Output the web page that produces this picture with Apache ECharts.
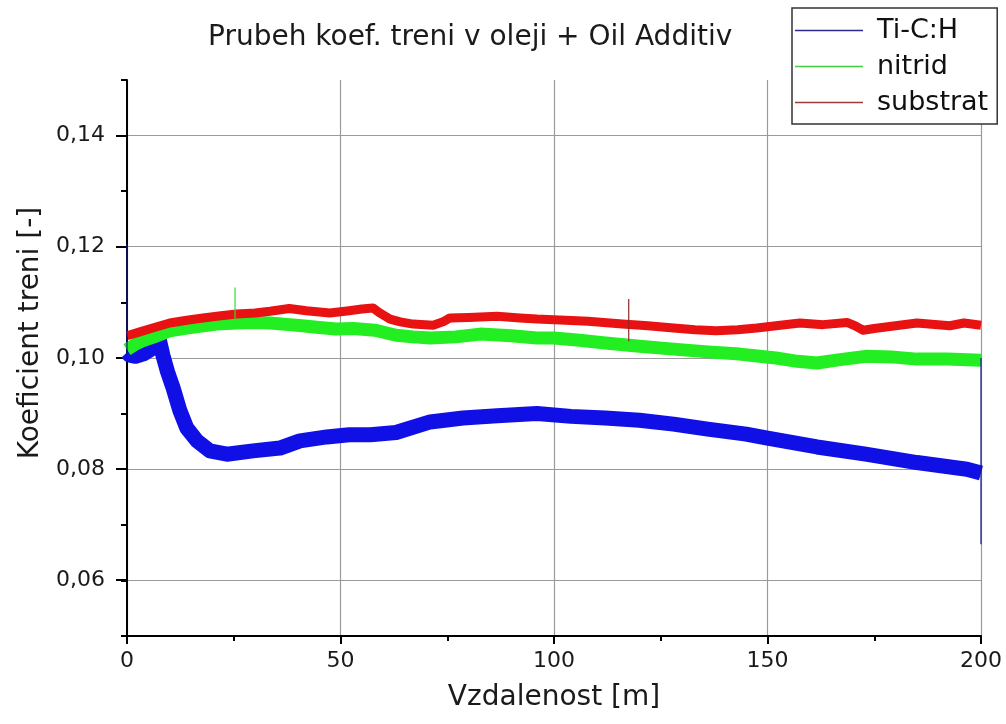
<!DOCTYPE html>
<html>
<head>
<meta charset="utf-8">
<title>Prubeh koef. treni</title>
<script src="https://cdn.jsdelivr.net/npm/echarts@6/dist/echarts.min.js"></script>
<style>
  html, body { margin: 0; padding: 0; background: #fff; }
  #chart { width: 1006px; height: 724px; }
</style>
</head>
<body>
<div id="chart"></div>
<script>
// hodnoty (vzdalenost v m, koeficient treni)
const seriesNames = ['Ti-C:H', 'nitrid', 'substrat']

const distTiCH = [0, 0.6, 2, 4, 5.5, 6.6, 7.5, 8.4, 9.5, 10.8, 12.4, 14, 16.4, 19.4, 23.4, 29.5, 35.8, 40.5, 46.8, 52, 57, 63, 71, 78.7, 86.7, 96, 104, 112, 120, 128, 136, 145, 150, 161.6, 173, 185, 196.7, 200]
const valTiCH = [0.1010, 0.1005, 0.1003, 0.1008, 0.1015, 0.1030, 0.1035, 0.1005, 0.0975, 0.0946, 0.0905, 0.0874, 0.0851, 0.0833, 0.0827, 0.0833, 0.0838, 0.0851, 0.0858, 0.0862, 0.0862, 0.0866, 0.0885, 0.0892, 0.0896, 0.0900, 0.0895, 0.0892, 0.0888, 0.0881, 0.0872, 0.0863, 0.0856, 0.0840, 0.0827, 0.0812, 0.0800, 0.0793]

const distNitrid = [0, 2, 4, 6, 8, 10, 14, 17.8, 21, 25.7, 30, 33.5, 38, 41, 45, 49, 53, 58, 63, 67, 71, 77, 82.7, 90, 96, 100, 106, 112, 120, 128, 136, 143.5, 147, 152, 157, 161.6, 167, 173, 179, 185, 192, 200]
const valNitrid = [0.1015, 0.1025, 0.1032, 0.1037, 0.1043, 0.1049, 0.1054, 0.1058, 0.1061, 0.1063, 0.1064, 0.1063, 0.1060, 0.1058, 0.1055, 0.1052, 0.1053, 0.1050, 0.1041, 0.1038, 0.1036, 0.1038, 0.1043, 0.1040, 0.1036, 0.1036, 0.1032, 0.1027, 0.1021, 0.1016, 0.1011, 0.1007, 0.1004, 0.1000, 0.0994, 0.0991, 0.0997, 0.1003, 0.1002, 0.0998, 0.0998, 0.0996]

const distSubstrat = [0, 3, 6, 10, 14, 17.8, 22, 25.7, 30, 33.5, 38, 42, 47.5, 52, 55, 57.6, 59, 61.6, 64, 67, 71.7, 74, 75.6, 80, 86.7, 92, 96, 100, 108, 116, 122, 128, 133, 138, 143, 147.5, 152, 157.6, 163, 168.6, 170.5, 172.4, 175, 180, 185, 192.7, 196, 200]
const valSubstrat = [0.1040, 0.1047, 0.1054, 0.1063, 0.1068, 0.1072, 0.1076, 0.1079, 0.1081, 0.1084, 0.1089, 0.1085, 0.1081, 0.1085, 0.1088, 0.1090, 0.1082, 0.1070, 0.1065, 0.1061, 0.1059, 0.1065, 0.1072, 0.1073, 0.1075, 0.1072, 0.1070, 0.1069, 0.1066, 0.1061, 0.1058, 0.1054, 0.1051, 0.1049, 0.1051, 0.1054, 0.1058, 0.1063, 0.1060, 0.1064, 0.1058, 0.1050, 0.1053, 0.1058, 0.1063, 0.1058, 0.1063, 0.1059]

// jednotlive spicky (Ti-C:H start, nitrid, substrat, Ti-C:H konec)
const spikeDist = [0, 25.3, 117.5, 200]
const spikeLow = [0.1005, 0.1063, 0.1030, 0.0665]
const spikeHigh = [0.1205, 0.1127, 0.1106, 0.1000]

const xTicks = [0, 50, 100, 150, 200]
const yTicks = [0.06, 0.08, 0.10, 0.12, 0.14]

const FONT = 'DejaVu Sans'
const pairs = (xs, ys) => xs.map((x, i) => [x, ys[i]])

const chart = echarts.init(document.getElementById('chart'), null, { renderer: 'canvas' })

const bandColors = ['#1010e6', '#22ee22', '#e81212']
const bandWidths = [15, 13, 9]
const spikeColors = ['#16168a', '#33dd33', '#8a2a2a', '#16168a']

const mainSeries = [
  pairs(distTiCH, valTiCH),
  pairs(distNitrid, valNitrid),
  pairs(distSubstrat, valSubstrat),
].map((data, i) => ({
  name: seriesNames[i],
  type: 'line',
  xAxisIndex: 0,
  yAxisIndex: 0,
  showSymbol: false,
  symbol: 'none',
  color: bandColors[i],
  lineStyle: { width: bandWidths[i], color: bandColors[i], join: 'round' },
  data: data,
  silent: true,
  animation: false,
}))

const spikeSeries = spikeDist.map((d, i) => ({
  name: 'spike' + i,
  type: 'line',
  xAxisIndex: 0,
  yAxisIndex: 0,
  symbol: 'none',
  lineStyle: { width: 1.2, color: spikeColors[i] },
  data: [[d, spikeLow[i]], [d, spikeHigh[i]]],
  silent: true,
  animation: false,
  z: 3,
}))

chart.setOption({
  backgroundColor: '#fff',
  animation: false,
  title: {
    text: 'Prubeh koef. treni v oleji + Oil Additiv',
    left: 208,
    top: 24,
    padding: 0,
    textStyle: { fontFamily: FONT, fontSize: 28, fontWeight: 'normal', color: '#1a1a1a' },
  },
  legend: {
    data: [
      { name: seriesNames[0], itemStyle: { color: '#2a2a8a' } },
      { name: seriesNames[1], itemStyle: { color: '#44cc44' } },
      { name: seriesNames[2], itemStyle: { color: '#a03a3a' } },
    ],
    orient: 'vertical',
    left: 792,
    top: 8,
    padding: [9, 9, 8, 3],
    itemGap: 9,
    itemWidth: 68,
    itemHeight: 1.5,
    icon: 'rect',
    backgroundColor: '#fff',
    borderColor: '#333',
    borderWidth: 1.5,
    selectedMode: false,
    textStyle: { fontFamily: FONT, fontSize: 27, lineHeight: 25, color: '#111', padding: [0, 0, 0, 9] },
    z: 10,
  },
  grid: [
    { left: 127, right: 25, top: 80, bottom: 88, containLabel: false },
    // pomocna mrizka jen pro hlavni dilky osy y (0,06 .. 0,14)
    { left: 127, right: 25, top: 135.6, bottom: 144, containLabel: false },
  ],
  xAxis: [
    {
      type: 'value',
      gridIndex: 0,
      min: xTicks[0],
      max: xTicks[xTicks.length - 1],
      interval: 50,
      name: 'Vzdalenost [m]',
      nameLocation: 'middle',
      nameGap: 48,
      nameTextStyle: { fontFamily: FONT, fontSize: 28, color: '#1a1a1a' },
      axisLine: { show: true, lineStyle: { color: '#000', width: 2 } },
      axisTick: { show: true, length: 8, lineStyle: { color: '#000', width: 2 } },
      minorTick: { show: true, splitNumber: 2, length: 5, lineStyle: { color: '#000', width: 2 } },
      axisLabel: { fontFamily: FONT, fontSize: 22, color: '#1a1a1a', margin: 14 },
      splitLine: { show: true, lineStyle: { color: '#9a9a9a', width: 1.2 } },
    },
    { type: 'value', gridIndex: 1, min: 0, max: 200, show: false },
  ],
  yAxis: [
    {
      type: 'value',
      gridIndex: 0,
      min: 0.05,
      max: 0.15,
      interval: 0.01,
      name: 'Koeficient treni [-]',
      nameLocation: 'middle',
      nameGap: 82,
      nameRotate: 90,
      nameTextStyle: { fontFamily: FONT, fontSize: 28, color: '#1a1a1a', padding: [0, 0, 0, 50] },
      axisLine: { show: true, lineStyle: { color: '#000', width: 2 } },
      axisTick: { show: true, length: 6, lineStyle: { color: '#000', width: 2 } },
      axisLabel: { show: false },
      splitLine: { show: false },
    },
    {
      type: 'value',
      gridIndex: 1,
      min: yTicks[0],
      max: yTicks[yTicks.length - 1],
      interval: 0.02,
      axisLine: { show: false },
      axisTick: { show: true, length: 11, lineStyle: { color: '#000', width: 2 } },
      axisLabel: {
        fontFamily: FONT,
        fontSize: 22,
        color: '#1a1a1a',
        margin: 22,
        formatter: (v) => v.toFixed(2).replace('.', ','),
      },
      splitLine: { show: true, lineStyle: { color: '#9a9a9a', width: 1.2 } },
    },
  ],
  series: mainSeries.concat(spikeSeries),
})
</script>
</body>
</html>
